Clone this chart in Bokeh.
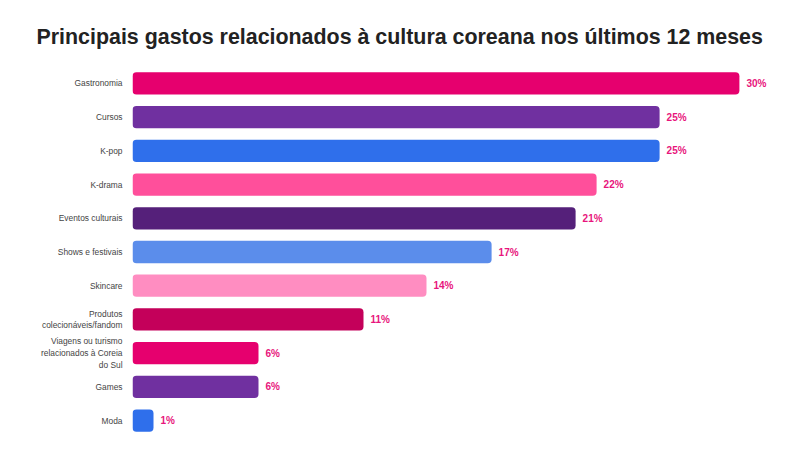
from bokeh.plotting import figure
from bokeh.models import ColumnDataSource, FactorRange, Range1d
from bokeh.core.properties import value
from bokeh.embed import file_html
from bokeh.resources import INLINE

categories = [
    "Gastronomia",
    "Cursos",
    "K-pop",
    "K-drama",
    "Eventos culturais",
    "Shows e festivais",
    "Skincare",
    "Produtos\ncolecionáveis/fandom",
    "Viagens ou turismo\nrelacionados à Coreia\ndo Sul",
    "Games",
    "Moda",
]
# bar lengths as drawn in the picture (percent)
bar_values = [28.9, 25.1, 25.1, 22.1, 21.1, 17.1, 14.0, 11.0, 6.0, 6.0, 1.0]
# printed labels
value_labels = ["30%", "25%", "25%", "22%", "21%", "17%", "14%", "11%", "6%", "6%", "1%"]
colors = ["#E6006E", "#7030A0", "#2F6FEB", "#FF4F9B", "#55207A", "#5B8DEB",
          "#FF8DC1", "#C4005A", "#E6006E", "#7030A0", "#2F6FEB"]

FONT = "Liberation Sans"

src = ColumnDataSource(dict(cat=categories, val=bar_values, lab=value_labels, col=colors))

p = figure(
    y_range=FactorRange(factors=list(reversed(categories)), range_padding=0),
    x_range=Range1d(0, 31),
    frame_width=651, frame_height=371,
    output_backend="svg", toolbar_location=None,
    min_border_left=132, min_border_right=8, min_border_bottom=4, min_border_top=66,
)

p.title.text = "Principais gastos relacionados à cultura coreana nos últimos 12 meses"
p.title.text_font = FONT
p.title.text_font_size = "21.4px"
p.title.text_font_style = "bold"
p.title.text_color = "#222222"
p.title.align = "left"
p.title.offset = -96
p.title.standoff = 35

p.hbar(y="cat", right="val", left=0, height=0.66, color="col", source=src,
       line_color=None, border_radius=4)

p.text(x="val", y="cat", text="lab", source=src, x_offset=7,
       text_font=value(FONT), text_font_size="10px", text_font_style="bold",
       text_color="#E8157C", text_baseline="middle", text_align="left")

p.xaxis.visible = False
p.yaxis.axis_line_color = None
p.yaxis.major_tick_line_color = None
p.yaxis.minor_tick_line_color = None
p.yaxis.major_tick_in = 0
p.yaxis.major_tick_out = 0
p.yaxis.major_label_text_font = FONT
p.yaxis.major_label_text_font_size = "8.4px"
p.yaxis.major_label_text_color = "#444444"
p.yaxis.major_label_standoff = 10
p.yaxis.major_label_text_line_height = 1.17
p.xgrid.grid_line_color = None
p.ygrid.grid_line_color = None
p.outline_line_color = None

open("out.html", "w").write(file_html(p, INLINE))
